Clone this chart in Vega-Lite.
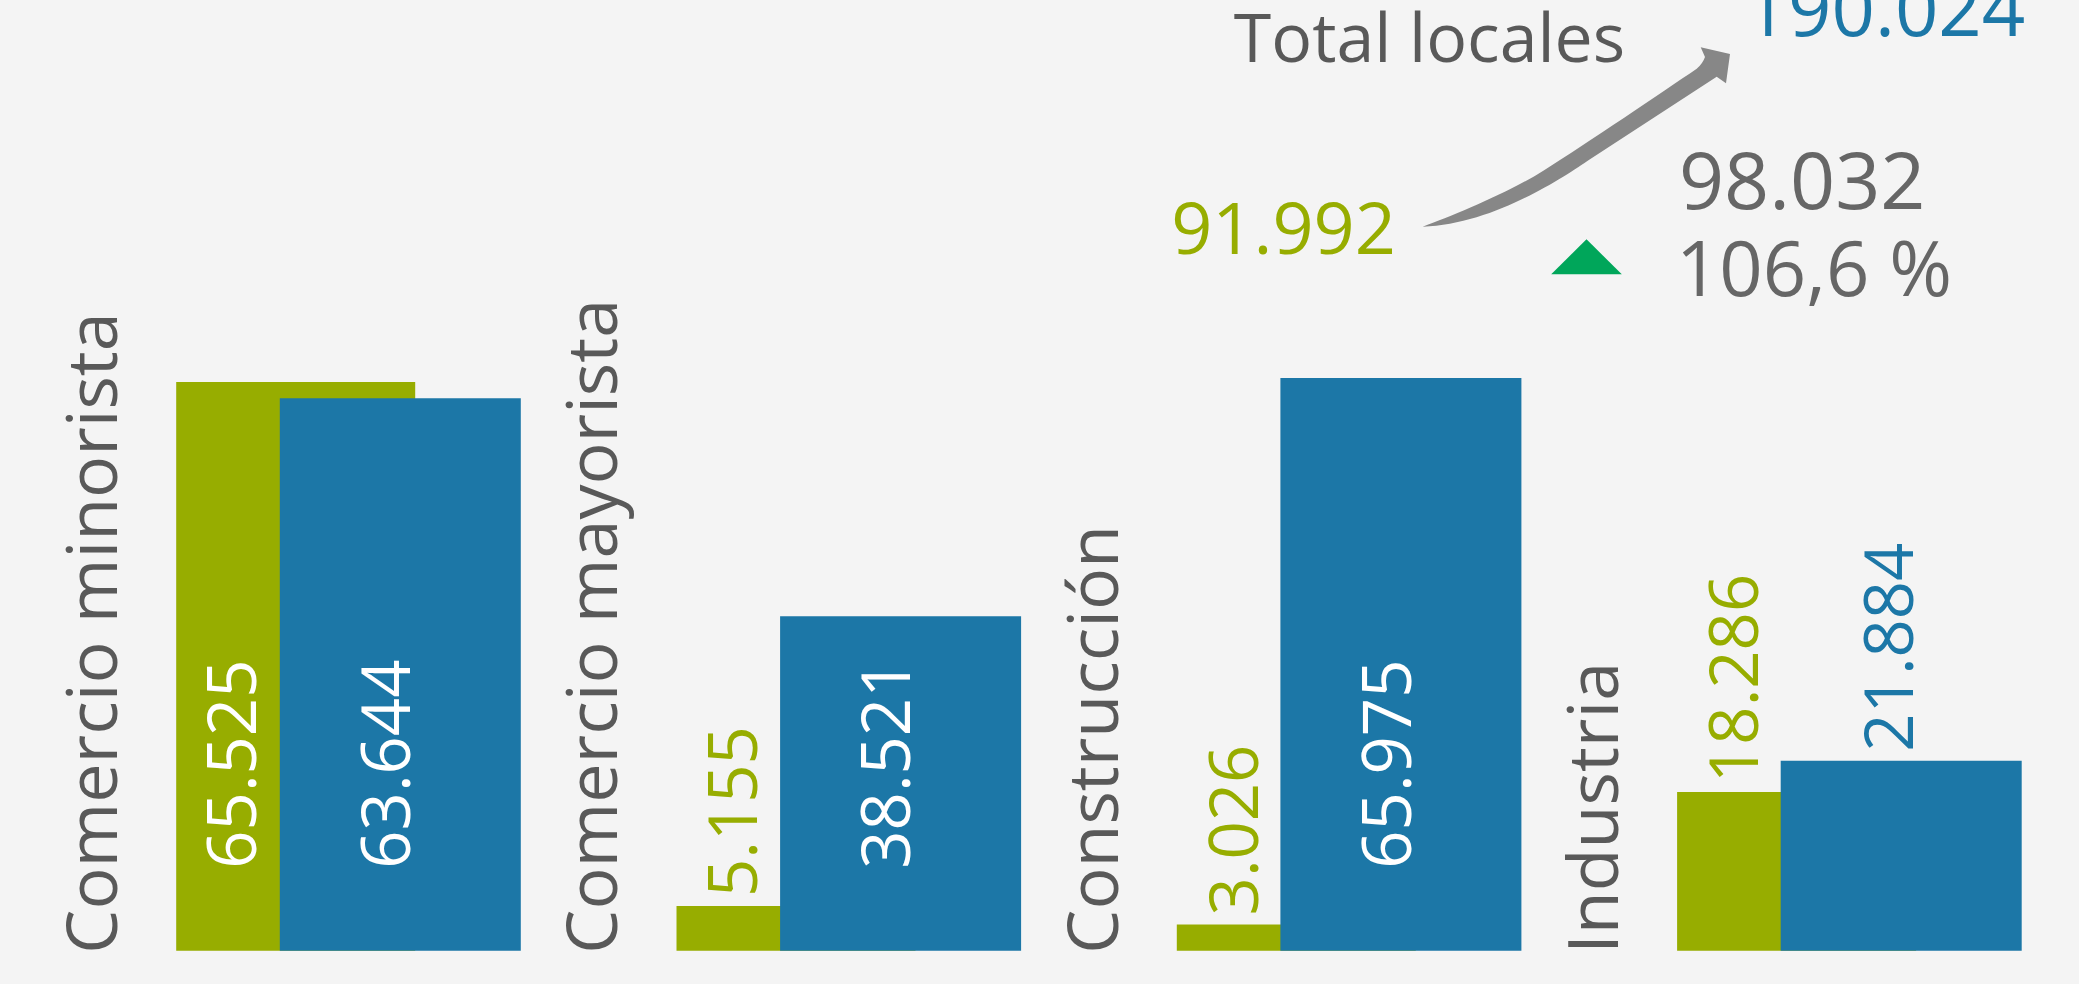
{
  "$schema": "https://vega.github.io/schema/vega-lite/v6.json",
  "width": 2079,
  "height": 984,
  "padding": 0,
  "autosize": {"type": "none"},
  "background": "#f4f4f4",
  "config": {
    "view": {"stroke": null},
    "locale": {"number": {"decimal": ",", "thousands": ".", "grouping": [3], "currency": ["", " €"]}},
    "text": {"font": "Open Sans"}
  },
  "data": {
    "values": [
      {"categoria": "Comercio minorista", "periodo": "anterior", "locales": 65525},
      {"categoria": "Comercio minorista", "periodo": "actual", "locales": 63644},
      {"categoria": "Comercio mayorista", "periodo": "anterior", "locales": 5155},
      {"categoria": "Comercio mayorista", "periodo": "actual", "locales": 38521},
      {"categoria": "Construcción", "periodo": "anterior", "locales": 3026},
      {"categoria": "Construcción", "periodo": "actual", "locales": 65975},
      {"categoria": "Industria", "periodo": "anterior", "locales": 18286},
      {"categoria": "Industria", "periodo": "actual", "locales": 21884}
    ]
  },
  "encoding": {
    "x": {
      "field": "categoria",
      "type": "nominal",
      "axis": null,
      "scale": {
        "type": "band",
        "domain": ["Comercio minorista", "Comercio mayorista", "Construcción", "Industria"],
        "range": [97.85, 2099.05],
        "paddingInner": 0,
        "paddingOuter": 0
      }
    },
    "y": {
      "field": "locales",
      "type": "quantitative",
      "axis": null,
      "scale": {"domain": [0, 109515], "range": [950.7, 0], "nice": false, "zero": false}
    }
  },
  "layer": [
    {
      "transform": [{"filter": "datum.periodo === 'anterior'"}],
      "mark": {"type": "bar", "width": 239, "xOffset": -52.3, "color": "#97ad00"}
    },
    {
      "transform": [{"filter": "datum.periodo === 'actual'"}],
      "mark": {"type": "bar", "width": 241, "xOffset": 52.3, "color": "#1c77a7"}
    },
    {
      "transform": [{"filter": "datum.periodo === 'anterior' && datum.locales > 30000"}],
      "mark": {"type": "text", "angle": 270, "align": "left", "baseline": "middle", "dx": 82, "xOffset": -112, "color": "#ffffff", "fontSize": 67},
      "encoding": {
        "y": {"datum": 0, "type": "quantitative"},
        "text": {"field": "locales", "type": "quantitative", "format": ",d"}
      }
    },
    {
      "transform": [{"filter": "datum.periodo === 'anterior' && datum.locales <= 30000"}],
      "mark": {"type": "text", "angle": 270, "align": "left", "baseline": "middle", "dx": 9, "xOffset": -111, "color": "#97ad00", "fontSize": 67},
      "encoding": {
        "text": {"field": "locales", "type": "quantitative", "format": ",d"}
      }
    },
    {
      "transform": [{"filter": "datum.periodo === 'actual' && datum.locales > 30000"}],
      "mark": {"type": "text", "angle": 270, "align": "left", "baseline": "middle", "dx": 82, "xOffset": 42, "color": "#ffffff", "fontSize": 67},
      "encoding": {
        "y": {"datum": 0, "type": "quantitative"},
        "text": {"field": "locales", "type": "quantitative", "format": ",d"}
      }
    },
    {
      "transform": [{"filter": "datum.periodo === 'actual' && datum.locales <= 30000"}],
      "mark": {"type": "text", "angle": 270, "align": "left", "baseline": "middle", "dx": 9, "xOffset": 44, "color": "#1c77a7", "fontSize": 67},
      "encoding": {
        "text": {"field": "locales", "type": "quantitative", "format": ",d"}
      }
    },
    {
      "transform": [{"filter": "datum.periodo === 'actual'"}],
      "mark": {"type": "text", "angle": 270, "align": "left", "baseline": "alphabetic", "dx": -3, "xOffset": -231, "color": "#595959", "fontSize": 70},
      "encoding": {
        "y": {"datum": 0, "type": "quantitative"},
        "text": {"field": "categoria", "type": "nominal"}
      }
    },
    {
      "transform": [{"filter": "datum.categoria === 'Industria' && datum.periodo === 'actual'"}],
      "mark": {"type": "text", "text": "Total locales", "align": "center", "baseline": "alphabetic", "xOffset": -419.4, "color": "#595959", "fontSize": 68},
      "encoding": {
        "y": {"datum": 102373, "type": "quantitative"}
      }
    },
    {
      "transform": [
        {"filter": "datum.periodo === 'anterior'"},
        {"joinaggregate": [{"op": "sum", "field": "locales", "as": "total"}]},
        {"filter": "datum.categoria === 'Construcción'"}
      ],
      "mark": {"type": "text", "align": "center", "baseline": "alphabetic", "xOffset": -65.1, "color": "#97ad00", "fontSize": 72},
      "encoding": {
        "y": {"datum": 80256, "type": "quantitative"},
        "text": {"field": "total", "type": "quantitative", "format": ",d"}
      }
    },
    {
      "transform": [
        {"filter": "datum.periodo === 'actual'"},
        {"joinaggregate": [{"op": "sum", "field": "locales", "as": "total"}]},
        {"filter": "datum.categoria === 'Industria'"}
      ],
      "mark": {"type": "text", "align": "center", "baseline": "alphabetic", "xOffset": 36, "color": "#1c77a7", "fontSize": 76},
      "encoding": {
        "y": {"datum": 105368, "type": "quantitative"},
        "text": {"field": "total", "type": "quantitative", "format": ",d"}
      }
    },
    {
      "transform": [{"filter": "datum.categoria === 'Industria' && datum.periodo === 'actual'"}],
      "mark": {"type": "text", "text": "98.032", "align": "left", "baseline": "alphabetic", "xOffset": -170, "color": "#666666", "fontSize": 79},
      "encoding": {
        "y": {"datum": 85439, "type": "quantitative"}
      }
    },
    {
      "transform": [{"filter": "datum.categoria === 'Industria' && datum.periodo === 'actual'"}],
      "mark": {"type": "text", "text": "106,6 %", "align": "left", "baseline": "alphabetic", "xOffset": -173, "color": "#666666", "fontSize": 76},
      "encoding": {
        "y": {"datum": 75418, "type": "quantitative"}
      }
    },
    {
      "transform": [{"filter": "datum.categoria === 'Industria' && datum.periodo === 'actual'"}],
      "mark": {"type": "point", "shape": "M-35.3,17.5L35.3,17.5L0,-17.5Z", "size": 4, "filled": true, "opacity": 1, "color": "#00a65a", "strokeWidth": 0, "xOffset": -262.4},
      "encoding": {
        "y": {"datum": 79934, "type": "quantitative"}
      }
    },
    {
      "transform": [{"filter": "datum.categoria === 'Construcción' && datum.periodo === 'actual'"}],
      "mark": {"type": "point", "shape": "M0,0C30,-11,85,-33.5,120.6,-56C165,-84,240,-135,274,-158Q280,-163,282.3,-169.7L278,-179.4L307.3,-172.7L303.3,-143.4L294,-150L167.3,-67.5C140,-49,70,-2,0,0Z", "size": 4, "filled": true, "opacity": 1, "color": "#878787", "strokeWidth": 0, "xOffset": 74.1},
      "encoding": {
        "y": {"datum": 83401, "type": "quantitative"}
      }
    }
  ]
}
